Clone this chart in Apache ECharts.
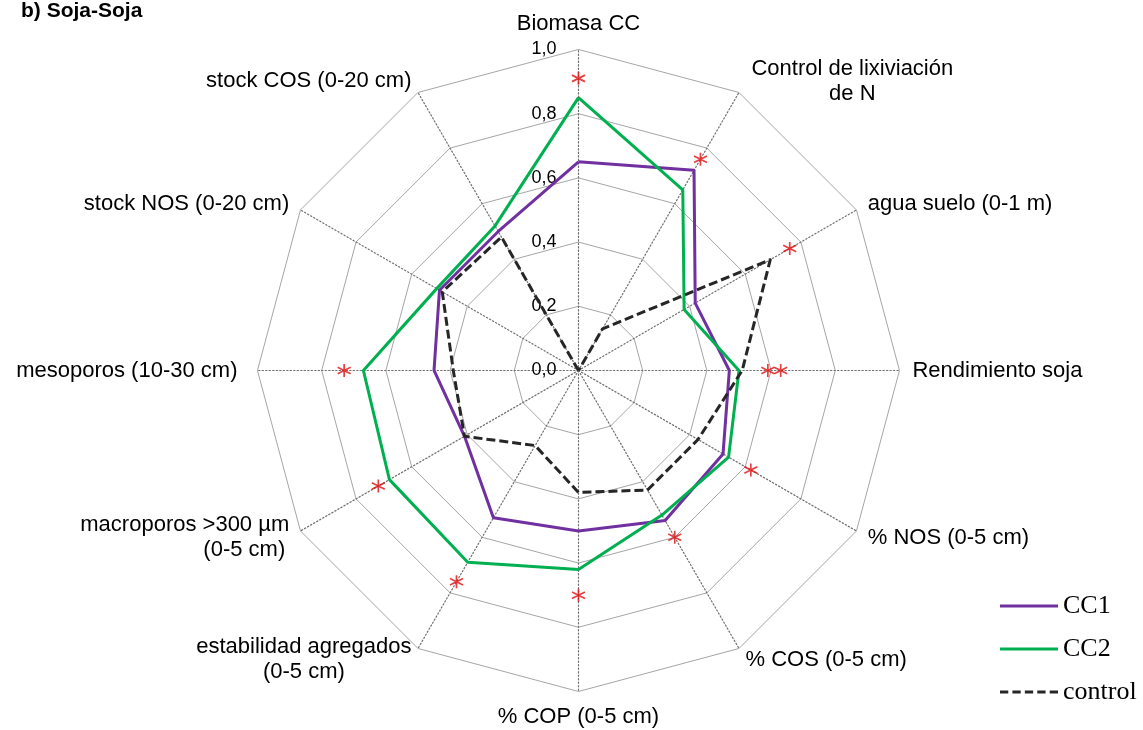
<!DOCTYPE html>
<html>
<head>
<meta charset="utf-8">
<title>b) Soja-Soja</title>
<script src="https://cdn.jsdelivr.net/npm/echarts@6/dist/echarts.min.js"></script>
<style>
  html, body { margin: 0; padding: 0; background: #fff; }
  #chart { width: 1143px; height: 730px; }
</style>
</head>
<body>
<div id="chart"></div>
<script>
// Axes listed clockwise, starting at the top
const axes = [
  'Biomasa CC',
  'Control de lixiviación\nde N',
  'agua suelo (0-1 m)',
  'Rendimiento soja',
  '% NOS (0-5 cm)',
  '% COS (0-5 cm)',
  '% COP (0-5 cm)',
  'estabilidad agregados\n(0-5 cm)',
  'macroporos >300 µm\n(0-5 cm)',
  'mesoporos (10-30 cm)',
  'stock NOS (0-20 cm)',
  'stock COS (0-20 cm)'
];

// Relative scores (0-1), same order as axes
const cc1     = [0.65, 0.72, 0.42, 0.47, 0.52, 0.54, 0.50, 0.53, 0.41, 0.45, 0.50, 0.50];
const cc2     = [0.85, 0.65, 0.38, 0.50, 0.54, 0.52, 0.62, 0.69, 0.68, 0.67, 0.51, 0.52];
const control = [0.00, 0.15, 0.69, 0.51, 0.43, 0.43, 0.38, 0.27, 0.41, 0.39, 0.49, 0.48];

// Significance marks (*): axis and radial position
const starAxes   = ['Biomasa CC', 'Control de lixiviación\nde N', 'agua suelo (0-1 m)',
                    'Rendimiento soja', 'Rendimiento soja', '% NOS (0-5 cm)', '% COS (0-5 cm)',
                    '% COP (0-5 cm)', 'estabilidad agregados\n(0-5 cm)',
                    'macroporos >300 µm\n(0-5 cm)', 'mesoporos (10-30 cm)'];
const starValues = [0.91, 0.76, 0.76, 0.59, 0.63, 0.62, 0.60, 0.70, 0.76, 0.72, 0.73];

// Radar indicators run counter-clockwise, so keep the first and reverse the rest
const toRadarOrder = arr => [arr[0]].concat(arr.slice(1).reverse());

const CENTER = ['50.61%', '50.75%'];
const RADIUS = 321;
const FONT = 'Liberation Sans, Arial, sans-serif';
const NAME_SIZE = 22;

const nameRich = {
  c: { align: 'center', fontFamily: FONT, fontSize: NAME_SIZE, color: '#000', lineHeight: 25 },
  r: { align: 'right', fontFamily: FONT, fontSize: NAME_SIZE, color: '#000', lineHeight: 25, padding: [0, 4, 0, 0] },
  far: { fontFamily: FONT, fontSize: NAME_SIZE, color: '#000', lineHeight: 25, padding: [0, 7, 0, 0] },
  lead: { align: 'center', fontFamily: FONT, fontSize: NAME_SIZE, color: '#000', lineHeight: 25, padding: [0, 0, 0, 6] }
};

function formatName(name) {
  const lines = name.split('\n');
  if (name.indexOf('mesoporos') === 0) return '{far|' + name + '}';
  if (lines.length === 1) return '{c|' + name + '}';
  if (name.indexOf('Control') === 0) return '{lead|' + lines[0] + '}\n{lead|' + lines[1] + '}';
  const second = name.indexOf('macroporos') === 0 ? 'r' : 'c';
  return '{c|' + lines[0] + '}\n{' + second + '|' + lines[1] + '}';
}

const solidIcon = 'path://M0,0H58V3H0Z';
const dashedIcon = 'path://M0,0H8V3H0Z M12,0H20V3H12Z M24,0H32V3H24Z M36,0H44V3H36Z M48,0H56V3H48Z';
const starPath = 'path://M6,0L6,12M0.8,3L11.2,9M0.8,9L11.2,3';

const chart = echarts.init(document.getElementById('chart'), null, { renderer: 'canvas' });

chart.setOption({
  animation: false,
  backgroundColor: '#fff',
  title: {
    text: 'b) Soja-Soja',
    left: 21, top: 1, padding: 0,
    textStyle: { fontFamily: FONT, fontSize: 21, fontWeight: 'bold', color: '#000' }
  },
  legend: {
    orient: 'vertical',
    left: 1000, top: 593, padding: 0,
    itemWidth: 58, itemHeight: 14, itemGap: 17,
    selectedMode: false,
    itemStyle: { borderWidth: 0 },
    textStyle: { fontFamily: 'Liberation Serif, Times New Roman, serif', fontSize: 26, lineHeight: 26, color: '#000' },
    data: [
      { name: 'CC1', icon: solidIcon },
      { name: 'CC2', icon: solidIcon },
      { name: 'control', icon: dashedIcon }
    ]
  },
  radar: {
    center: CENTER,
    radius: RADIUS,
    startAngle: 90,
    splitNumber: 5,
    shape: 'polygon',
    nameGap: 13,
    indicator: toRadarOrder(axes).map((name, i) => ({
      name: name, min: 0, max: 1,
      axisLabel: i === 0 ? {
        show: true, margin: 22, color: '#000', fontFamily: FONT, fontSize: 18,
        padding: [5, 0, 0, 0],
        formatter: v => v.toFixed(1).replace('.', ',')
      } : { show: false }
    })),
    axisName: { formatter: formatName, rich: nameRich, color: '#000', fontFamily: FONT, fontSize: NAME_SIZE },
    splitLine: { lineStyle: { color: '#a6a6a6', width: 1 } },
    splitArea: { show: false },
    axisLine: { lineStyle: { color: '#6f6f6f', width: 1.2, type: [1.3, 2.2] } },
    axisTick: { show: false },
    axisLabel: { show: false }
  },
  polar: { center: CENTER, radius: RADIUS },
  angleAxis: {
    type: 'category', data: axes, startAngle: 90, clockwise: true, boundaryGap: false,
    axisLine: { show: false }, axisTick: { show: false }, axisLabel: { show: false }, splitLine: { show: false }
  },
  radiusAxis: {
    type: 'value', min: 0, max: 1,
    axisLine: { show: false }, axisTick: { show: false }, axisLabel: { show: false }, splitLine: { show: false }
  },
  series: [
    {
      type: 'radar', name: 'CC1', symbol: 'none', z: 3,
      itemStyle: { color: '#7030a0' },
      lineStyle: { color: '#7030a0', width: 3 },
      data: [{ name: 'CC1', value: toRadarOrder(cc1) }]
    },
    {
      type: 'radar', name: 'CC2', symbol: 'none', z: 4,
      itemStyle: { color: '#00b050' },
      lineStyle: { color: '#00b050', width: 3 },
      data: [{ name: 'CC2', value: toRadarOrder(cc2) }]
    },
    {
      type: 'radar', name: 'control', symbol: 'none', z: 5,
      itemStyle: { color: '#262626' },
      lineStyle: { color: '#262626', width: 3, type: [9, 4] },
      data: [{ name: 'control', value: toRadarOrder(control) }]
    },
    {
      type: 'scatter', name: 'sig', coordinateSystem: 'polar', z: 6,
      symbol: starPath, symbolSize: 13,
      itemStyle: { color: 'rgba(0,0,0,0)', borderColor: '#e01010', borderWidth: 1.7 },
      data: starValues.map((v, i) => [v, starAxes[i]])
    }
  ]
});
</script>
</body>
</html>
